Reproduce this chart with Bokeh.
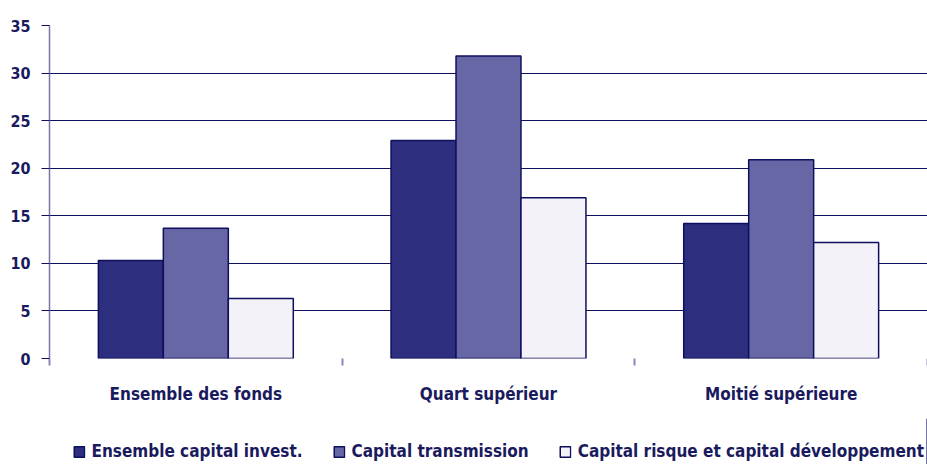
from bokeh.plotting import figure
from bokeh.layouts import column
from bokeh.models import ColumnDataSource, FixedTicker, Legend, LegendItem
from bokeh.embed import file_html
from bokeh.resources import INLINE

categories = ["Ensemble des fonds", "Quart supérieur", "Moitié supérieure"]
series_names = ["Ensemble capital invest.", "Capital transmission", "Capital risque et capital développement"]
ensemble = [10.3, 22.9, 14.2]
transmission = [13.7, 31.8, 20.9]
risque = [6.3, 16.9, 12.2]
y_ticks = [0, 5, 10, 15, 20, 25, 30, 35]

colors = ["#2E2E7E", "#6767A5", "#F3F2F8"]
navy = "#0F0F5F"
text_col = "#1A1A5E"
FONT = "DejaVu Sans Condensed"

p = figure(width=927, height=418, output_backend="svg", toolbar_location=None,
           x_range=(0, 3), y_range=(0, 35),
           min_border_left=49, min_border_right=0, min_border_top=25, min_border_bottom=60)
p.outline_line_color = None
p.background_fill_color = "white"

bw = 0.222
offsets = [-bw, 0.0, bw]
for vals, off, col in zip([ensemble, transmission, risque], offsets, colors):
    xs = [i + 0.5 + off for i in range(len(categories))]
    src = ColumnDataSource(dict(x=xs, top=vals))
    p.vbar(x="x", top="top", width=bw, bottom=0, source=src,
           fill_color=col, line_color=navy, line_width=1.5)

# axes
p.yaxis.ticker = FixedTicker(ticks=y_ticks)
p.yaxis.axis_line_color = "#7777AA"
p.yaxis.axis_line_width = 1.5
p.yaxis.major_tick_line_color = navy
p.yaxis.major_tick_out = 8
p.yaxis.major_tick_in = 0
p.yaxis.minor_tick_line_color = None
p.yaxis.major_label_text_font = FONT
p.yaxis.major_label_text_font_style = "bold"
p.yaxis.major_label_text_font_size = "16px"
p.yaxis.major_label_text_color = text_col
p.yaxis.major_label_standoff = 11

p.xaxis.ticker = FixedTicker(ticks=[0.5, 1.5, 2.5], minor_ticks=[0, 1, 2, 3])
p.xaxis.major_label_overrides = {0.5: categories[0], 1.5: categories[1], 2.5: categories[2]}
p.xaxis.axis_line_color = None
p.xaxis.major_tick_line_color = None
p.xaxis.minor_tick_line_color = "#8888BB"
p.xaxis.minor_tick_out = 7
p.xaxis.minor_tick_in = 0
p.xaxis.minor_tick_line_width = 2
p.xaxis.major_label_text_font = FONT
p.xaxis.major_label_text_font_style = "bold"
p.xaxis.major_label_text_font_size = "17px"
p.xaxis.major_label_text_color = text_col
p.xaxis.major_label_standoff = 18

p.xgrid.grid_line_color = None
p.ygrid.ticker = FixedTicker(ticks=y_ticks)
p.ygrid.grid_line_color = navy
p.ygrid.grid_line_width = 1

# legend strip (swatch renderers sit outside the visible range)
lf = figure(width=927, height=46, output_backend="svg", toolbar_location=None,
            x_axis_type=None, y_axis_type=None, x_range=(0, 1), y_range=(0, 1),
            min_border_left=0, min_border_right=0, min_border_top=0, min_border_bottom=0)
lf.outline_line_color = None
lf.xgrid.grid_line_color = None
lf.ygrid.grid_line_color = None
leg_renderers = []
for col in colors:
    swatch = ColumnDataSource(dict(x=[5], top=[1]))
    leg_renderers.append(lf.vbar(x="x", top="top", width=0.1, source=swatch,
                                 fill_color=col, line_color=navy, line_width=1.5))

legend = Legend(items=[LegendItem(label=n, renderers=[r]) for n, r in zip(series_names, leg_renderers)],
                orientation="horizontal", location="bottom_right",
                label_text_font=FONT, label_text_font_style="bold", label_text_font_size="17px",
                label_text_color=text_col, border_line_color=None, background_fill_alpha=0,
                glyph_width=13, glyph_height=13, spacing=30, label_standoff=6,
                margin=3, padding=1, label_height=16)
lf.add_layout(legend, "center")

layout = column(p, lf, spacing=0)
open("out.html", "w").write(file_html(layout, INLINE))
